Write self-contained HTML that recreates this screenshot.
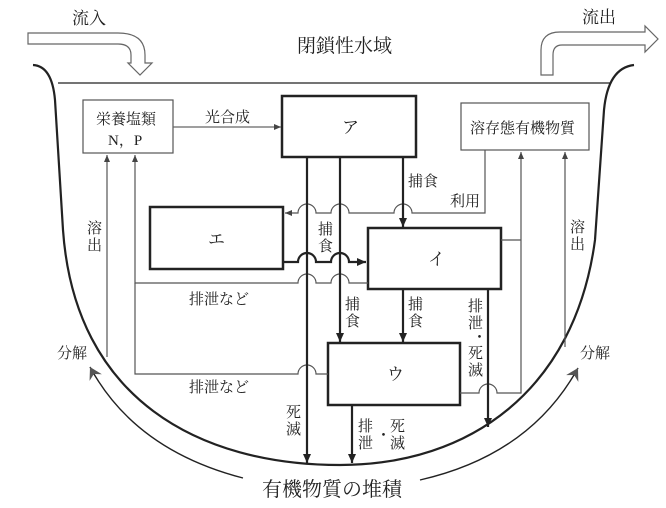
<!DOCTYPE html>
<html><head><meta charset="utf-8"><style>
html,body{margin:0;padding:0;background:#fff;}
svg{display:block;}
text{font-family:"Liberation Serif","Noto Serif CJK SC",serif;fill:#222;}
</style></head><body>
<svg width="666" height="508" viewBox="0 0 666 508" xmlns="http://www.w3.org/2000/svg">
<defs>
<marker id="a" markerWidth="8" markerHeight="8" refX="7" refY="4" orient="auto" markerUnits="userSpaceOnUse">
<path d="M0,1 L7,4 L0,7 Z" fill="#444"/></marker>
<marker id="b" markerWidth="10" markerHeight="10" refX="9" refY="5" orient="auto" markerUnits="userSpaceOnUse">
<path d="M0,1 L9,5 L0,9 Z" fill="#222"/></marker>
<marker id="c" markerWidth="16" markerHeight="16" refX="12" refY="8" orient="auto" markerUnits="userSpaceOnUse">
<path d="M0,1 L12,8 L0,15 L4,8 Z" fill="#555"/></marker>
</defs>
<g fill="none" stroke="#222">
<path d="M33,65 Q52,66 55,100 L63,230 C75,400 200,465 340,465 C470,465 575,390 595,240 L604,110 Q608,68 634,65" stroke-width="2.2"/>
<line x1="58" y1="83" x2="610" y2="83" stroke-width="1.3"/>
<path d="M28,33 L118,33 Q145,33 145,55 L145,63 L152,63 L140,75 L128,63 L131,63 L131,55 Q131,44 118,44 L28,44 Z" stroke="#666" stroke-width="1.2" fill="#fff"/>
<path d="M541,75 L541,50 Q541,32 560,32 L645,32 L645,26 L658,39 L645,52 L645,45 L562,45 Q553,45 553,55 L553,75 Z" stroke="#666" stroke-width="1.2" fill="#fff"/>
<rect x="83" y="100" width="90" height="53" stroke="#555" stroke-width="1.2"/>
<rect x="282" y="96" width="134" height="61" stroke-width="2.5"/>
<rect x="461" y="103" width="128" height="47" stroke="#555" stroke-width="1.2"/>
<rect x="150" y="207" width="133" height="62" stroke-width="2.5"/>
<rect x="368" y="228" width="133" height="61" stroke-width="2.5"/>
<rect x="328" y="343" width="132" height="62" stroke-width="2.5"/>
<line x1="173" y1="127" x2="281" y2="127" stroke="#666" stroke-width="1.2" marker-end="url(#a)"/>
<path d="M485,150 L485,213 L412,213 A9,9 0 0 0 394,213 L349,213 A9,9 0 0 0 331,213 L316,213 A9,9 0 0 0 298,213 L285,213" stroke="#555" stroke-width="1.2" marker-end="url(#a)"/>
<path d="M368,283 L349,283 A9,9 0 0 0 331,283 L316,283 A9,9 0 0 0 298,283 L135,283 L135,155" stroke="#555" stroke-width="1.2" marker-end="url(#a)"/>
<path d="M328,374 L316,374 A9,9 0 0 0 298,374 L135,374 L135,283" stroke="#555" stroke-width="1.2"/>
<path d="M107,357 L107,155" stroke="#555" stroke-width="1.2" marker-end="url(#a)"/>
<path d="M460,393 L479,393 A9,9 0 0 1 497,393 L521,393 L521,152" stroke="#555" stroke-width="1.2" marker-end="url(#a)"/>
<line x1="501" y1="240" x2="521" y2="240" stroke="#555" stroke-width="1.2"/>
<path d="M565,347 L565,152" stroke="#555" stroke-width="1.2" marker-end="url(#a)"/>
<path d="M283,262 L298,262 A9,9 0 0 1 316,262 L331,262 A9,9 0 0 1 349,262 L366,262" stroke-width="2.2" marker-end="url(#b)"/>
<line x1="307" y1="157" x2="307" y2="463" stroke-width="2.2" marker-end="url(#b)"/>
<line x1="340" y1="157" x2="340" y2="342" stroke-width="2.2" marker-end="url(#b)"/>
<line x1="403" y1="157" x2="403" y2="227" stroke-width="2.2" marker-end="url(#b)"/>
<line x1="403" y1="289" x2="403" y2="342" stroke-width="2.2" marker-end="url(#b)"/>
<line x1="488" y1="289" x2="488" y2="427" stroke-width="2.2" marker-end="url(#b)"/>
<line x1="352" y1="405" x2="352" y2="463" stroke-width="2.2" marker-end="url(#b)"/>
<path d="M243,478 Q135,450 90,367" stroke-width="1.4" marker-end="url(#c)"/>
<path d="M420,480 Q530,455 578,368" stroke-width="1.4" marker-end="url(#c)"/>
</g>
<g font-size="15">
<text x="72" y="24" font-size="17">流入</text>
<text x="582" y="23" font-size="17">流出</text>
<text x="297" y="52" font-size="19">閉鎖性水域</text>
<text x="96" y="124">栄養塩類</text>
<text x="108" y="145">N，P</text>
<text x="205" y="122">光合成</text>
<text x="342" y="133" font-size="17">ア</text>
<text x="470" y="133">溶存態有機物質</text>
<text x="208" y="245" font-size="17">エ</text>
<text x="428" y="265" font-size="17">イ</text>
<text x="387" y="380" font-size="17">ウ</text>
<text x="408" y="186">捕食</text>
<text x="450" y="206">利用</text>
<text x="189" y="304">排泄など</text>
<text x="189" y="392">排泄など</text>
<text x="57" y="358">分解</text>
<text x="580" y="358">分解</text>
<text x="262" y="496" font-size="20">有機物質の堆積</text>
<text x="87" y="233">溶</text><text x="87" y="250">出</text>
<text x="570" y="232">溶</text><text x="570" y="249">出</text>
<text x="318" y="234">捕</text><text x="318" y="251">食</text>
<text x="345" y="309">捕</text><text x="345" y="326">食</text>
<text x="408" y="309">捕</text><text x="408" y="326">食</text>
<text x="468" y="311">排</text><text x="468" y="328">泄</text><text x="472" y="342">・</text><text x="468" y="358">死</text><text x="468" y="375">滅</text>
<text x="286" y="417">死</text><text x="286" y="434">滅</text>
<text x="358" y="431">排</text><text x="358" y="448">泄</text><text x="376" y="440">・</text><text x="390" y="431">死</text><text x="390" y="448">滅</text>
</g>
</svg>
</body></html>
